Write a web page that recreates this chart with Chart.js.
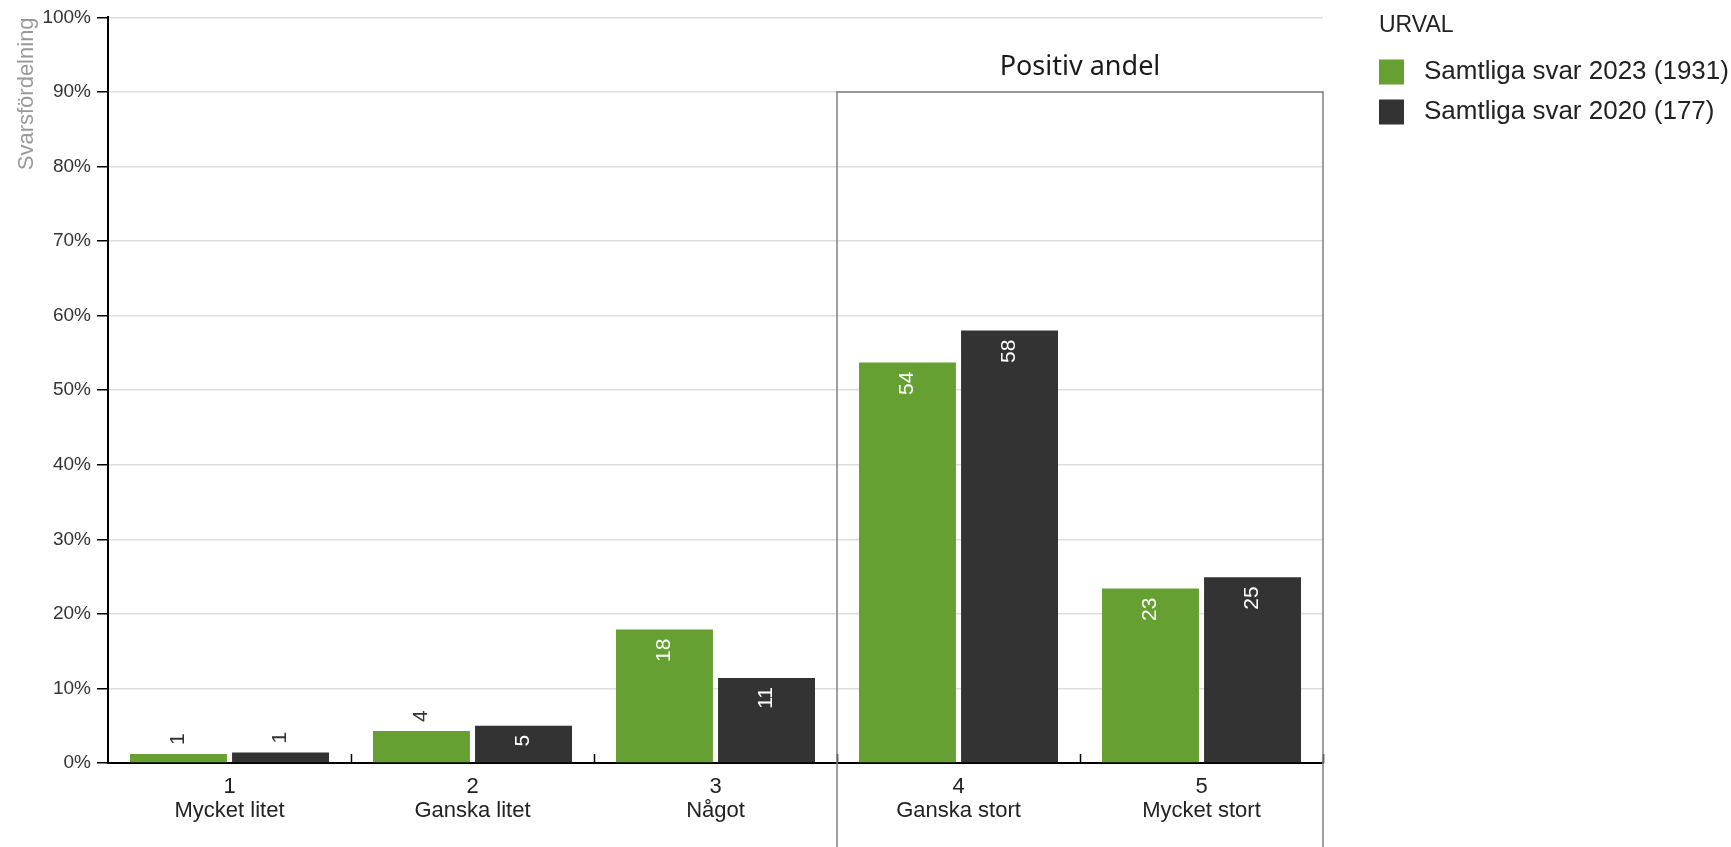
<!DOCTYPE html>
<html>
<head>
<meta charset="utf-8">
<script src="https://cdn.jsdelivr.net/npm/chart.js@4"></script>
<style>
  body { margin: 0; background: #fff; }
  #wrap { width: 1731px; height: 847px; }
</style>
</head>
<body>
<div id="wrap"><canvas id="chart" width="1731" height="847"></canvas></div>
<script>
// --- Data ---
const categories = [
  ["1", "Mycket litet"],
  ["2", "Ganska litet"],
  ["3", "Något"],
  ["4", "Ganska stort"],
  ["5", "Mycket stort"]
];
const seriesNames = ["Samtliga svar 2023 (1931)", "Samtliga svar 2020 (177)"];
const values2023 = [1.2, 4.3, 17.9, 53.7, 23.4];
const values2020 = [1.4, 5.0, 11.4, 58.0, 24.9];
const seriesColors = ["#66a032", "#333333"];
const yTicks = [0, 10, 20, 30, 40, 50, 60, 70, 80, 90, 100];
const positiveStart = 3;     // index of first "positive" category
const positiveTop = 90;      // box top on y scale
const positiveTitle = "Positiv andel";
const legendTitle = "URVAL";

const FONT = "'Liberation Sans', Arial, sans-serif";

// --- Plugins ---
const xTicksUp = {
  id: "xTicksUp",
  afterDraw(chart) {
    const { ctx, scales: { x }, chartArea } = chart;
    ctx.save();
    ctx.strokeStyle = "#000";
    ctx.lineWidth = 1.5;
    for (let i = 0; i < categories.length; i++) {
      const px = Math.round(x.getPixelForValue(i + 0.5)) + 0.5;
      ctx.beginPath();
      ctx.moveTo(px, chartArea.bottom);
      ctx.lineTo(px, chartArea.bottom - 9);
      ctx.stroke();
    }
    ctx.restore();
  }
};

const positiveBox = {
  id: "positiveBox",
  afterDraw(chart) {
    const { ctx, scales: { x, y } } = chart;
    const x0 = x.getPixelForValue(positiveStart - 0.5);
    const x1 = x.getPixelForValue(categories.length - 0.5);
    const y0 = y.getPixelForValue(positiveTop);
    ctx.save();
    ctx.strokeStyle = "#808080";
    ctx.lineWidth = 1.5;
    ctx.beginPath();
    ctx.moveTo(x0, chart.height + 2);
    ctx.lineTo(x0, y0);
    ctx.lineTo(x1, y0);
    ctx.lineTo(x1, chart.height + 2);
    ctx.stroke();
    ctx.fillStyle = "#1a1a1a";
    ctx.font = "27px 'Noto Sans', 'Open Sans', sans-serif";
    ctx.textAlign = "center";
    ctx.textBaseline = "middle";
    ctx.fillText(positiveTitle, (x0 + x1) / 2, y0 - 25);
    ctx.restore();
  }
};

// value labels, rotated a quarter turn counter-clockwise
const barLabels = {
  id: "barLabels",
  afterDatasetsDraw(chart) {
    const { ctx } = chart;
    ctx.save();
    ctx.font = "21px " + FONT;
    ctx.textBaseline = "middle";
    chart.data.datasets.forEach((ds, di) => {
      chart.getDatasetMeta(di).data.forEach((bar, i) => {
        const v = Math.round(ds.data[i]);
        ctx.save();
        if (v >= 5) {
          ctx.translate(bar.x, bar.y + 9);
          ctx.rotate(-Math.PI / 2);
          ctx.textAlign = "right";
          ctx.fillStyle = "#fff";
        } else {
          ctx.translate(bar.x, bar.y - 9);
          ctx.rotate(-Math.PI / 2);
          ctx.textAlign = "left";
          ctx.fillStyle = "#333";
        }
        ctx.fillText(String(v), 0, 0);
        ctx.restore();
      });
    });
    ctx.restore();
  }
};

const sideLegend = {
  id: "sideLegend",
  afterDraw(chart) {
    const { ctx, chartArea } = chart;
    const left = chartArea.right + 56;
    ctx.save();
    ctx.fillStyle = "#222";
    ctx.font = "23px " + FONT;
    ctx.textBaseline = "middle";
    ctx.textAlign = "left";
    ctx.fillText(legendTitle, left, 26);
    ctx.font = "26px " + FONT;
    chart.data.datasets.forEach((ds, i) => {
      const cy = 72 + i * 40;
      ctx.fillStyle = ds.backgroundColor;
      ctx.fillRect(left, cy - 12.5, 25, 25);
      ctx.fillStyle = "#222";
      ctx.fillText(ds.label, left + 45, cy);
    });
    ctx.restore();
  }
};

// --- Chart ---
new Chart(document.getElementById("chart"), {
  type: "bar",
  data: {
    labels: categories,
    datasets: [
      { label: seriesNames[0], data: values2023, backgroundColor: seriesColors[0],
        categoryPercentage: 0.84, barPercentage: 0.95 },
      { label: seriesNames[1], data: values2020, backgroundColor: seriesColors[1],
        categoryPercentage: 0.84, barPercentage: 0.95 }
    ]
  },
  options: {
    responsive: false,
    devicePixelRatio: 1,
    animation: false,
    layout: { padding: { top: 16, right: 408, left: 0, bottom: 0 } },
    plugins: {
      legend: { display: false },
      tooltip: { enabled: false }
    },
    scales: {
      x: {
        grid: { display: false, drawTicks: false },
        border: { color: "#000", width: 2 },
        ticks: { color: "#222", padding: 12, font: { family: FONT, size: 22, lineHeight: 1.1 } },
        afterFit(s) { s.height = 84; }
      },
      y: {
        min: 0,
        max: 100,
        afterBuildTicks(s) { s.ticks = yTicks.map(v => ({ value: v })); },
        ticks: {
          color: "#333",
          padding: 6,
          font: { family: FONT, size: 19 },
          callback: v => v + "%"
        },
        grid: { color: "#dddddd", lineWidth: 1.5, tickColor: "#000", tickLength: 11 },
        border: { color: "#000", width: 2 },
        title: {
          display: true,
          text: "Svarsfördelning",
          align: "end",
          color: "#999",
          font: { family: FONT, size: 22 },
          padding: { top: 14, bottom: 0 }
        },
        afterFit(s) { s.width = 108; }
      }
    }
  },
  plugins: [xTicksUp, positiveBox, barLabels, sideLegend]
});
</script>
</body>
</html>
